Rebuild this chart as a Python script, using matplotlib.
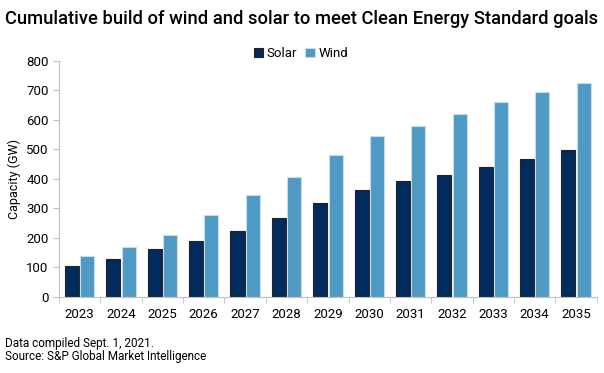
import matplotlib.pyplot as plt
import numpy as np

years = ['2023', '2024', '2025', '2026', '2027', '2028', '2029',
         '2030', '2031', '2032', '2033', '2034', '2035']
solar = [104, 129, 164, 191, 224, 268, 320, 363, 392, 413, 441, 469, 498]
wind = [140, 170, 211, 277, 345, 408, 480, 547, 578, 620, 661, 694, 725]

plt.rcParams['font.family'] = ['Roboto', 'DejaVu Sans']

fig = plt.figure(figsize=(6.04, 3.73), dpi=100)
ax = fig.add_axes([0.0977, 0.2038, 0.8903, 0.6327])

x = np.arange(len(years))
w = 0.34
ax.bar(x - 0.185, solar, w, color='#002b5c', edgecolor='#2a1f1f', linewidth=0.8, label='Solar')
ax.bar(x + 0.185, wind, w, color='#4f9ac4', edgecolor='#c8dcea', linewidth=0.8, label='Wind')

ax.set_xlim(-0.5, len(years) - 0.5)
ax.set_ylim(0, 800)
ax.set_yticks(range(0, 801, 100))
ax.set_xticks(x)
ax.set_xticklabels(years)
ax.set_xticks(np.arange(-0.5, len(years), 1), minor=True)
ax.tick_params(axis='x', which='major', length=0, labelsize=9.5, pad=8)
ax.tick_params(axis='x', which='minor', length=4, color='#c0c0c0')
ax.tick_params(axis='y', length=4, color='#c0c0c0', labelsize=9.5)
for s in ['top', 'right']:
    ax.spines[s].set_visible(False)
for s in ['left', 'bottom']:
    ax.spines[s].set_color('#c0c0c0')
ax.set_ylabel('Capacity (GW)', fontsize=9)

ax.legend(loc='center', bbox_to_anchor=(0.45, 1.03), ncol=2, frameon=False,
          fontsize=9.5, handlelength=0.7, handleheight=0.7, handletextpad=0.3,
          columnspacing=0.6)

fig.text(0.008, 0.95, 'Cumulative build of wind and solar to meet Clean Energy Standard goals',
         fontsize=13.2, fontweight='medium', va='center')
fig.text(0.008, 0.08, 'Data compiled Sept. 1, 2021.', fontsize=8.5, va='center')
fig.text(0.008, 0.043, 'Source: S&P Global Market Intelligence', fontsize=8.5, va='center')

fig.savefig('out.png', dpi=100)
